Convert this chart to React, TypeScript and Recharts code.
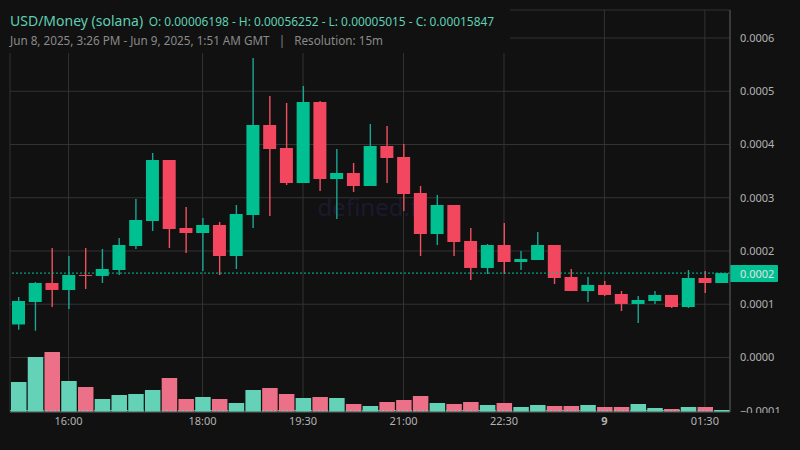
import React from "react";
import {
  ComposedChart,
  Bar,
  Cell,
  XAxis,
  YAxis,
  CartesianGrid,
  ReferenceLine,
} from "recharts";

const FONT = "'Noto Sans', sans-serif";
const UP = "#00c092";
const DOWN = "#f2475f";
const VOL_UP = "#63d2b6";
const VOL_DOWN = "#ec7088";

const times = [
  "15:15", "15:30", "15:45", "16:00", "16:15", "16:30", "16:45", "17:00", "17:15", "17:30", "17:45",
  "18:00", "18:15", "18:30", "18:45", "19:00", "19:15", "19:30", "19:45", "20:00", "20:15", "20:30",
  "20:45", "21:00", "21:15", "21:30", "21:45", "22:00", "22:15", "22:30", "22:45", "23:00", "23:15",
  "23:30", "23:45", "9", "00:15", "00:30", "00:45", "01:00", "01:15", "01:30", "01:45",
];
// prices in units of 1e-5
const opens = [
  6.198, 10.42, 13.99, 12.68, 15.49, 15.31, 16.43, 20.94, 25.63, 37.09, 24.32, 23.38, 24.88, 19.06, 26.76,
  43.66, 39.34, 32.77, 47.98, 33.52, 34.65, 32.21, 39.72, 37.65, 30.89, 23.19, 28.64, 21.88, 16.81, 21.13,
  17.93, 18.31, 21.13, 15.12, 12.49, 13.62, 11.92, 10.05, 10.61, 11.74, 9.48, 14.93, 13.99,
];
const closes = [
  10.61, 13.99, 12.68, 15.49, 15.31, 16.62, 21.13, 25.82, 37.09, 24.13, 23.38, 24.88, 19.06, 26.95, 43.66,
  39.15, 32.77, 47.98, 33.52, 34.65, 32.21, 39.72, 37.46, 30.7, 23.19, 28.64, 21.69, 16.81, 21.13, 17.93,
  18.5, 21.13, 14.93, 12.49, 13.62, 11.74, 10.05, 10.8, 11.74, 9.48, 14.93, 13.99, 15.847,
];
const highs = [
  11.36, 14.18, 20.56, 19.06, 20.56, 20.38, 22.44, 29.77, 38.4, 37.09, 28.26, 26.2, 25.45, 28.64, 56.252,
  49.11, 47.79, 50.99, 48.17, 39.15, 36.53, 43.85, 43.47, 40.09, 32.21, 30.52, 28.64, 24.32, 21.31, 25.26,
  20.0, 23.57, 21.13, 16.62, 15.12, 14.37, 12.49, 11.55, 12.49, 11.74, 16.43, 16.24, 15.847,
];
const lows = [
  5.2, 5.015, 9.48, 9.11, 12.86, 13.99, 15.49, 20.38, 23.76, 20.56, 19.62, 16.24, 15.49, 16.62, 24.32,
  26.57, 32.39, 32.77, 31.27, 26.01, 31.08, 32.21, 32.77, 27.51, 19.06, 21.13, 19.06, 14.55, 15.68, 15.68,
  16.43, 18.31, 13.8, 12.49, 10.42, 11.55, 8.73, 6.48, 10.05, 9.3, 9.3, 12.11, 13.99,
];
const volumes = [
  30, 55, 60, 31, 25, 13, 17, 18, 22, 34, 13, 15, 13, 9, 22, 24, 18, 14, 15, 14, 8, 6, 10, 12,
  16, 9, 8, 10, 7, 9, 5, 7, 6, 6, 7, 5, 5, 8, 4, 3, 5, 5, 2,
];
const priceTicks = [-10, 0, 10, 20, 30, 40, 50, 60];
const timeTicks = ["16:00", "18:00", "19:30", "21:00", "22:30", "9", "01:30"];
const lastPrice = 15.847;

const rows = times.map((time, i) => ({
  time,
  body: [Math.min(opens[i], closes[i]), Math.max(opens[i], closes[i])],
  wick: [lows[i], highs[i]],
  volume: volumes[i],
  up: closes[i] >= opens[i],
}));

const PriceTick = ({ y, payload }: any) => (
  <text
    x={740}
    y={y}
    dy={4}
    fill="#b2b2b2"
    fontSize={11}
    fontFamily={FONT}
    clipPath="url(#axisClip)"
  >
    {payload.value < 0 ? "\u2212" : ""}
    {(Math.abs(payload.value) / 1e5).toFixed(4)}
  </text>
);

const TimeTick = ({ x, y, payload }: any) => (
  <text
    x={x}
    y={y}
    dy={5}
    fill="#b2b2b2"
    fontSize={11}
    fontFamily={FONT}
    fontWeight={payload.value === "9" ? 700 : 400}
    textAnchor="middle"
  >
    {payload.value}
  </text>
);

const PriceBadge = ({ viewBox }: any) => (
  <g>
    <rect x={viewBox.x + viewBox.width} y={viewBox.y - 8} width={48} height={17} rx={1} fill={UP} />
    <text
      x={viewBox.x + viewBox.width + 10}
      y={viewBox.y + 4.5}
      fill="#e0e0e0"
      fontSize={11}
      fontFamily={FONT}
    >
      {(lastPrice / 1e5).toFixed(4)}
    </text>
  </g>
);

export default function App() {
  return (
    <div style={{ position: "absolute", left: 0, top: 0, width: 800, height: 450, background: "#111111", overflow: "hidden" }}>
      <div
        style={{
          position: "absolute",
          left: 266,
          top: 190,
          width: 210,
          textAlign: "center",
          fontFamily: FONT,
          fontSize: 24,
          color: "#1a1a2e",
        }}
      >
        defined.fi
      </div>
      <ComposedChart
        width={800}
        height={450}
        data={rows}
        margin={{ top: 10, right: 0, bottom: 0, left: 10 }}
        barCategoryGap={0}
        style={{ position: "absolute", left: 0, top: 0 }}
      >
        <defs>
          <clipPath id="axisClip">
            <rect x={731} y={0} width={69} height={413} />
          </clipPath>
        </defs>
        <CartesianGrid stroke="#333333" strokeWidth={1} yAxisId="price" xAxisId="time" />
        <XAxis xAxisId="wickAxis" dataKey="time" hide height={0} />
        <XAxis xAxisId="bodyAxis" dataKey="time" hide height={0} />
        <XAxis
          xAxisId="time"
          dataKey="time"
          ticks={timeTicks}
          interval={0}
          tick={<TimeTick />}
          tickLine={false}
          axisLine={{ stroke: "#555555" }}
          height={38}
        />
        <YAxis
          yAxisId="price"
          orientation="right"
          domain={[-10.24, 65.26]}
          ticks={priceTicks}
          tick={<PriceTick />}
          tickLine={false}
          axisLine={{ stroke: "#555555" }}
          width={70}
          allowDataOverflow
        />
        <YAxis yAxisId="vol" domain={[0, 402]} hide />
        <Bar xAxisId="time" yAxisId="vol" dataKey="volume" barSize={15.5} isAnimationActive={false}>
          {rows.map((r) => (
            <Cell key={r.time} fill={r.up ? VOL_UP : VOL_DOWN} />
          ))}
        </Bar>
        <ReferenceLine xAxisId="time" yAxisId="vol" y={1.3} stroke={VOL_UP} strokeDasharray="2 2" />
        <Bar xAxisId="wickAxis" yAxisId="price" dataKey="wick" barSize={1.4} isAnimationActive={false}>
          {rows.map((r) => (
            <Cell key={r.time} fill={r.up ? "#1aa695" : "#f2505f"} />
          ))}
        </Bar>
        <Bar xAxisId="bodyAxis" yAxisId="price" dataKey="body" barSize={13} isAnimationActive={false}>
          {rows.map((r) => (
            <Cell key={r.time} fill={r.up ? UP : DOWN} />
          ))}
        </Bar>
        <ReferenceLine
          xAxisId="time"
          yAxisId="price"
          y={lastPrice}
          stroke={UP}
          strokeDasharray="2 2"
          label={<PriceBadge />}
        />
      </ComposedChart>
      <div style={{ position: "absolute", left: 0, top: 0, width: 510, height: 53, background: "#111111", fontFamily: FONT }}>
        <div style={{ position: "absolute", left: 10, top: 9, whiteSpace: "nowrap", color: "#5fd0b3" }}>
          <span style={{ fontSize: 14 }}>USD/Money (solana)</span>
          <span style={{ fontSize: 11.93, marginLeft: 5.5 }}>
            O: 0.00006198 - H: 0.00056252 - L: 0.00005015 - C: 0.00015847
          </span>
        </div>
        <div style={{ position: "absolute", left: 10, top: 32, whiteSpace: "nowrap", color: "#8a8a8a", fontSize: 11.7 }}>
          Jun 8, 2025, 3:26 PM - Jun 9, 2025, 1:51 AM GMT &nbsp;&nbsp;|&nbsp;&nbsp; Resolution: 15m
        </div>
      </div>
    </div>
  );
}
